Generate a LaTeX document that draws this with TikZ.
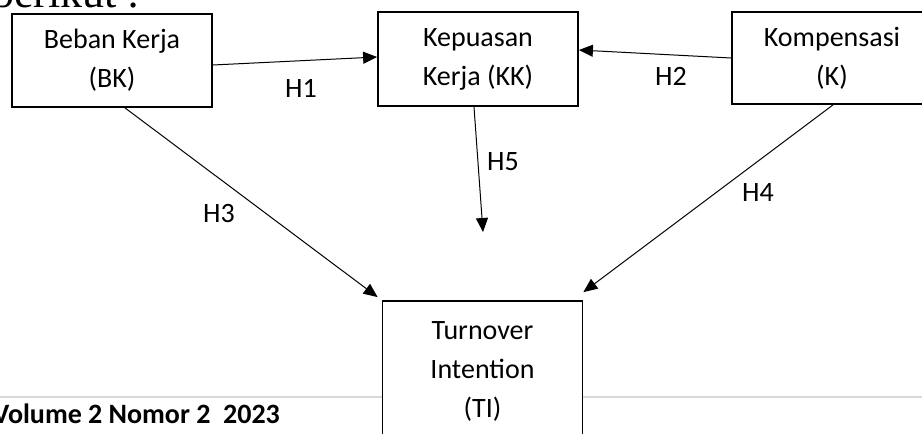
\documentclass[tikz,border=0pt]{standalone}
\usepackage{fontspec}
\setmainfont{Carlito}
\newfontfamily\serifbody{Liberation Serif}
\usetikzlibrary{arrows.meta}
\tikzset{
  var/.style={draw=black, fill=white, line width=0.9pt, minimum width=100pt,
    inner sep=0pt, align=center, font=\fontsize{14}{19.5}\selectfont},
  lowtext/.style={execute at begin node={\rule{0pt}{15pt}}},
  link/.style={draw=black, line width=0.5pt, -{Triangle[length=7pt,width=6pt]}},
  hyp/.style={font=\fontsize{14}{17}\selectfont},
  footrule/.style={draw=black!15, line width=0.8pt},
}

\begin{document}
\begin{tikzpicture}[x=0.5pt,y=-0.5pt]
  \useasboundingbox (0,0) rectangle (922,434);
  \clip (0,0) rectangle (922,434);

  % page bits round the figure
  \node[anchor=base east, font=\serifbody\fontsize{22}{26}\selectfont] (intro) at (147,7) {berikut :};
  \draw[footrule] (0,397) -- (922,397);
  \node[anchor=base east, font=\bfseries\fontsize{14}{17}\selectfont] (vol) at (287,423) {Volume 2 Nomor 2~~2023};

  % variables
  \node[var, lowtext, minimum height=46.5pt] (bk) at (112,60.5) {Beban Kerja\\(BK)};
  \node[var, lowtext, minimum height=47pt] (kk) at (478,59) {Kepuasan\\Kerja (KK)};
  \node[var, lowtext, minimum height=46pt] (k) at (832,58) {Kompensasi\\(K)};
  \node[var, minimum height=70pt] (ti) at (482.5,371) {Turnover\\Intention\\(TI)};
  \coordinate (h5end) at (483,232);

  % hypotheses
  \draw[link] ([yshift=-2.25pt]bk.east) -- ([yshift=1pt]kk.west);
  \draw[link] (k.west) -- ([yshift=4.5pt]kk.east);
  \draw[link] ([xshift=6.5pt]bk.south) -- ([xshift=-2pt,yshift=1.5pt]ti.north west);
  \draw[link] ([xshift=0.5pt]k.south) -- ([yshift=4pt]ti.north east);
  \draw[link] ([xshift=-2pt]kk.south) -- (h5end);

  \node[hyp] (h1) at (301,88) {H1};
  \node[hyp] (h2) at (671,76) {H2};
  \node[hyp] (h3) at (219,214) {H3};
  \node[hyp] (h4) at (758,193) {H4};
  \node[hyp] (h5) at (503,162) {H5};
\end{tikzpicture}
\end{document}
